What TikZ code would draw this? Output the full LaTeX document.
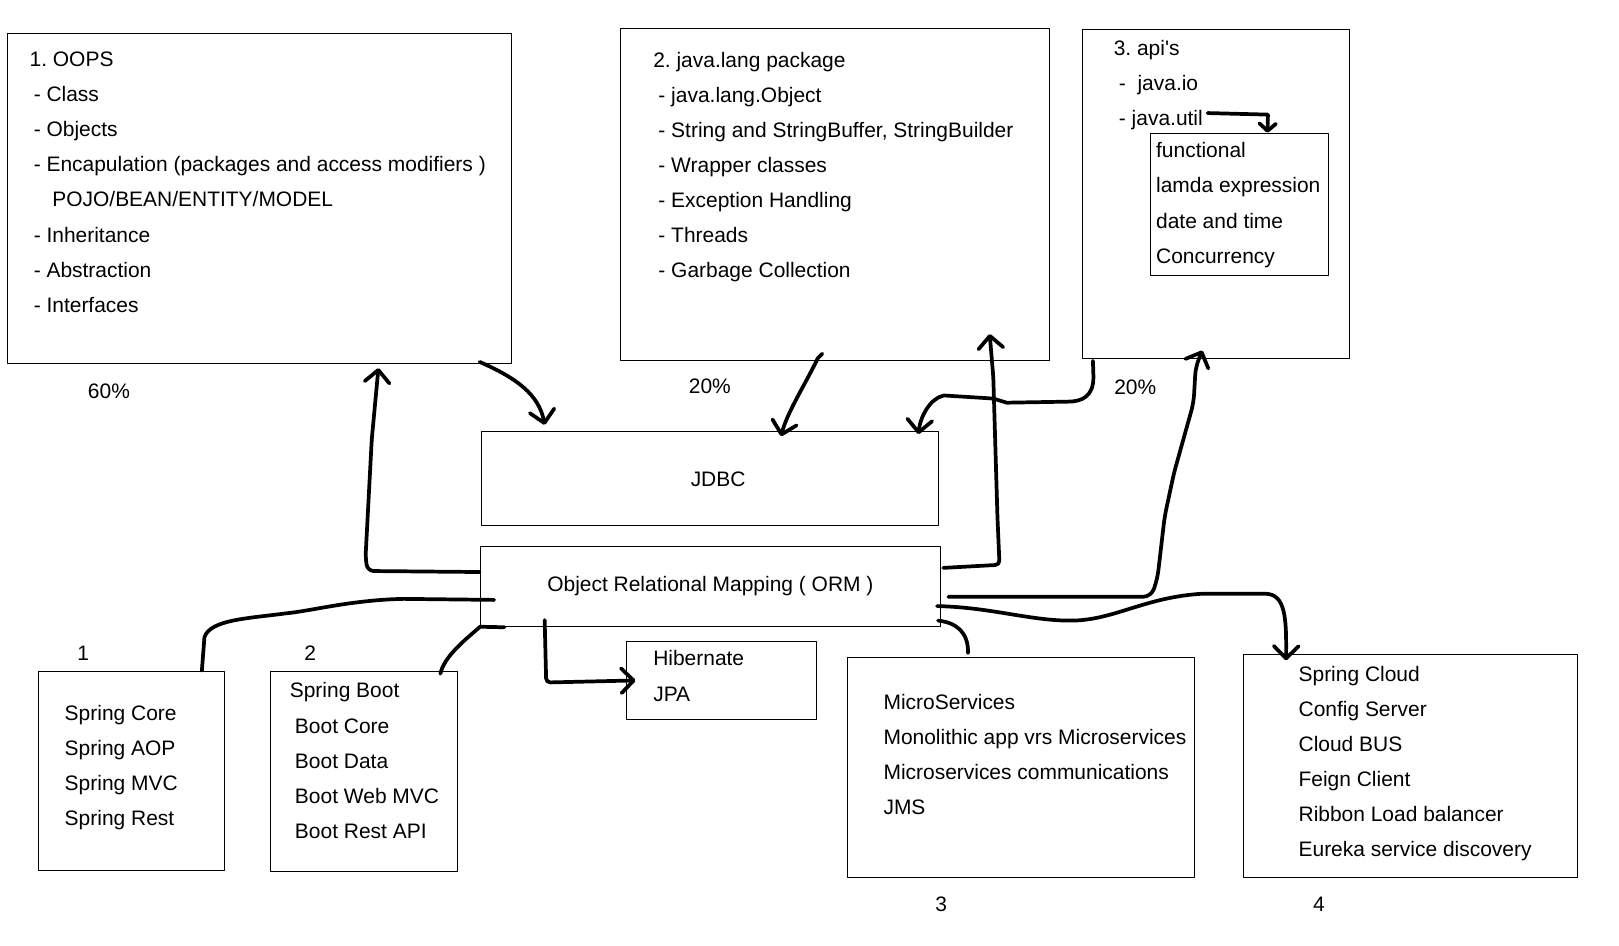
\documentclass[tikz,border=0pt]{standalone}
\usepackage{fontspec}
\setmainfont{Liberation Sans}
\usetikzlibrary{arrows.meta,calc}
\frenchspacing

\begin{document}
\begin{tikzpicture}[x=1pt, y=-1pt, font=\fontsize{20.3}{34}\selectfont, line join=round, line cap=round,
	box/.style={draw, line width=1pt, inner sep=0pt},
	txt/.style={align=left, anchor=north west, inner sep=0pt},
	lbl/.style={inner sep=0pt},
	scribbleline/.style={line width=3.6pt},
	scribble/.style={line width=3.6pt, -{Straight Barb[round, length=12pt, width=24pt]}}]
	\useasboundingbox (0,0) rectangle (1568,915.3);
	% top boxes
	\node[box, minimum width=488pt, minimum height=320pt] (oops) at (251,192) {};
	\node[box, minimum width=415pt, minimum height=321pt] (javalang) at (808.5,188.5) {};
	\node[box, minimum width=259pt, minimum height=318pt] (apis) at (1177.5,188) {};
	\node[box, minimum width=173pt, minimum height=138pt] (util) at (1200.5,198) {};
	\node[txt] (oopstxt) at ($(oops.north west)+(22,18.5)$) {1. OOPS\\\hspace*{4pt}- Class\\\hspace*{4pt}- Objects\\\hspace*{4pt}- Encapulation (packages and access modifiers )\\\hspace*{22pt}POJO/BEAN/ENTITY/MODEL\\\hspace*{4pt}- Inheritance\\\hspace*{4pt}- Abstraction\\\hspace*{4pt}- Interfaces};
	\node[txt] (langtxt) at ($(javalang.north west)+(32,22.5)$) {2. java.lang package\\\hspace*{5pt}- java.lang.Object\\\hspace*{5pt}- String and StringBuffer, StringBuilder\\\hspace*{5pt}- Wrapper classes\\\hspace*{5pt}- Exception Handling\\\hspace*{5pt}- Threads\\\hspace*{5pt}- Garbage Collection};
	\node[txt] (apistxt) at ($(apis.north west)+(31,10.5)$) {3. api\textquotesingle s\\\hspace*{5pt}- \ java.io\\\hspace*{5pt}- java.util};
	\node[txt] (utiltxt) at ($(util.north west)+(6,9.5)$) {functional\\lamda expression\\date and time\\Concurrency};
	\node[lbl] (pctoops) at ($(oops.south west)+(99,26)$) {60\%};
	\node[lbl] (pctlang) at ($(javalang.south west)+(87,25)$) {20\%};
	\node[lbl] (pctapis) at ($(apis.south west)+(52,28)$) {20\%};
	% middle
	\node[box, minimum width=443pt, minimum height=91pt] (jdbc) at (687.5,463.5) {};
	\node[lbl] (jdbctxt) at ($(jdbc.center)+(8,1)$) {JDBC};
	\node[box, minimum width=446pt, minimum height=78pt] (orm) at (688,568) {\raisebox{-1pt}{Object Relational Mapping ( ORM )}};
	\node[box, minimum width=184pt, minimum height=76pt] (hib) at (699,659) {};
	\node[txt] (hibtxt) at ($(hib.north west)+(26,9.5)$) {Hibernate\\JPA};
	% bottom boxes
	\node[box, minimum width=180pt, minimum height=193pt] (core) at (127,746.5) {};
	\node[box, minimum width=181pt, minimum height=194pt] (boot) at (352.5,747) {};
	\node[box, minimum width=336pt, minimum height=213pt] (micro) at (989,743.5) {};
	\node[box, minimum width=324pt, minimum height=216pt] (cloud) at (1366,742) {};
	\node[txt] (coretxt) at ($(core.north west)+(26,33.5)$) {Spring Core\\Spring AOP\\Spring MVC\\Spring Rest};
	\node[txt] (boottxt) at ($(boot.north west)+(19,11.5)$) {Spring Boot\\\hspace*{5pt}Boot Core\\\hspace*{5pt}Boot Data\\\hspace*{5pt}Boot Web MVC\\\hspace*{5pt}Boot Rest API};
	\node[txt] (microtxt) at ($(micro.north west)+(35,35.5)$) {MicroServices\\Monolithic app vrs Microservices\\Microservices communications\\JMS};
	\node[txt] (cloudtxt) at ($(cloud.north west)+(54,11.5)$) {Spring Cloud\\Config Server\\Cloud BUS\\Feign Client\\Ribbon Load balancer\\Eureka service discovery};
	\node[lbl] (numcore) at ($(core.north west)+(44,-17)$) {1};
	\node[lbl] (numboot) at ($(boot.north west)+(39,-17)$) {2};
	\node[lbl] (nummicro) at ($(micro.south west)+(91,25)$) {3};
	\node[lbl] (numcloud) at ($(cloud.south west)+(74,25)$) {4};
	% hand drawn arrows
	\draw[scribble, rounded corners=6pt] ($(orm.west)+(0,-14)$) -- (356,553) -- (354,540) -- (360,426) -- ($(oops.south west)+(360,4)$);
	\draw[scribble] ($(oops.south east)+(-31,-2)$) .. controls (500,366) and (522,382) .. ($(jdbc.north west)+(62,-6)$);
	\draw[scribble] ($(javalang.south west)+(196,-7)$) -- (792,347) .. controls (780,372) and (762,400) .. ($(jdbc.north west)+(291,5)$);
	\draw[scribble] ($(apis.south west)+(11,2)$) -- (1059,365) .. controls (1059,384) and (1048,389) .. (1034,389) -- (975,390) -- (962,386) -- (914,383) .. controls (900,386) and (891,405) .. ($(jdbc.north east)+(-20,3)$);
	\draw[scribble, rounded corners=4pt] ($(orm.east)+(2,-18)$) -- (968,547) -- (966,500) -- (962,365) -- ($(javalang.south west)+(358,-26)$);
	\draw[scribble, rounded corners=8pt] ($(orm.east)+(7,10)$) -- (1115,578) -- (1121,560) -- (1128,500) -- (1137,458) -- (1156,390) -- (1158,355) -- ($(apis.south west)+(117,-8)$);
	\draw[scribble] ($(orm.east)+(-4,19)$) .. controls (960,588) and (1000,602) .. (1040,601) .. controls (1080,600) and (1110,578) .. (1165,575) -- (1225,575) .. controls (1245,575) and (1246,598) .. ($(cloud.north west)+(42,6)$);
	\draw[scribbleline] ($(orm.east)+(-3,33)$) .. controls (926,603) and (938,612) .. ($(micro.north west)+(117,-4)$);
	\draw[scribble, rounded corners=4pt] ($(orm.south west)+(63,-7)$) -- (529,661) -- ($(hib.west)+(9,0)$);
	\draw[scribbleline] ($(orm.west)+(14,13)$) -- (391,580) .. controls (340,581) and (300,592) .. (277,594) .. controls (240,599) and (204,600) .. (198,617) -- ($(core.north west)+(159,0)$);
	\draw[scribbleline] ($(orm.south west)+(24,0)$) -- (465,607) .. controls (450,620) and (430,636) .. ($(boot.north east)+(-17,3)$);
	\draw[scribble, -{Straight Barb[round, length=7pt, width=16pt]}] ($(util.north west)+(56,-19)$) -- (1228,111) -- ($(util.north west)+(114,0)$);
\end{tikzpicture}
\end{document}
